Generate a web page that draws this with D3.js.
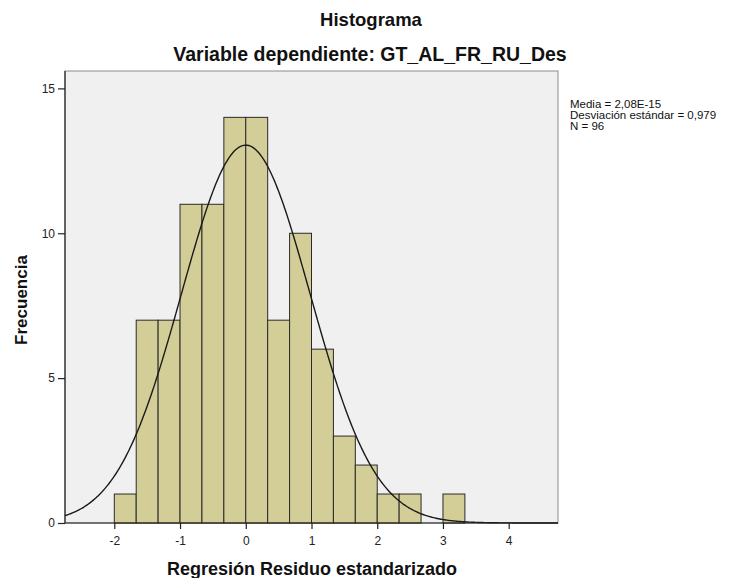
<!DOCTYPE html>
<html>
<head>
<meta charset="utf-8">
<script src="https://cdn.jsdelivr.net/npm/d3@7"></script>
<style>
body { margin: 0; background: #fff; }
text { font-family: "Liberation Sans", Arial, sans-serif; }
</style>
</head>
<body>
<svg id="chart" width="733" height="578"></svg>
<script>
// Data
const binStarts = [-2, -5/3, -4/3, -1, -2/3, -1/3, 0, 1/3, 2/3, 1, 4/3, 5/3, 2, 7/3, 8/3, 3];
const binWidth = 1/3;
const counts = [1, 7, 7, 11, 11, 14, 14, 7, 10, 6, 3, 2, 1, 1, 0, 1];
const xTicks = [-2, -1, 0, 1, 2, 3, 4];
const yTicks = [0, 5, 10, 15];
const statsLines = ["Media = 2,08E-15", "Desviación estándar = 0,979", "N = 96"];
const meanVal = 2.08e-15, sdVal = 0.979, nVal = 96;
const titleText = "Histograma";
const subtitleText = "Variable dependiente: GT_AL_FR_RU_Des";
const xLabel = "Regresión Residuo estandarizado";
const yLabel = "Frecuencia";

const svg = d3.select("#chart");
const L = 65, R = 558, T = 71, B = 523;
const x = d3.scaleLinear().domain([-2.75, 4.75]).range([L, R]);
const y = d3.scaleLinear().domain([0, 15.6]).range([B, T]);

// Plot background
svg.append("rect").attr("x", L).attr("y", T).attr("width", R - L).attr("height", B - T)
  .attr("fill", "#f0f0f0").attr("stroke", "#8c8c8c").attr("stroke-width", 1);

// Bars
svg.append("g").selectAll("rect").data(binStarts.map((s, i) => ({s, c: counts[i]})).filter(d => d.c > 0))
  .join("rect")
  .attr("x", d => x(d.s))
  .attr("y", d => y(d.c))
  .attr("width", d => x(d.s + binWidth) - x(d.s))
  .attr("height", d => y(0) - y(d.c))
  .attr("fill", "#d3ce97")
  .attr("stroke", "#2a2a2a")
  .attr("stroke-width", 1);

// Normal curve
const curvePts = d3.range(0, 401).map(i => {
  const xv = -2.75 + i * 7.5 / 400;
  const pdf = Math.exp(-0.5 * Math.pow((xv - meanVal) / sdVal, 2)) / (sdVal * Math.sqrt(2 * Math.PI));
  return [xv, nVal * binWidth * pdf];
});
svg.append("path").datum(curvePts)
  .attr("d", d3.line().x(d => x(d[0])).y(d => y(d[1])))
  .attr("fill", "none").attr("stroke", "#1a1a1a").attr("stroke-width", 1.4);

// Axes
const fmt = d => String(d);
const xAxis = svg.append("g").attr("transform", `translate(0,${B})`)
  .call(d3.axisBottom(x).tickValues(xTicks).tickSize(6).tickPadding(7).tickSizeOuter(0).tickFormat(fmt));
const yAxis = svg.append("g").attr("transform", `translate(${L},0)`)
  .call(d3.axisLeft(y).tickValues(yTicks).tickSize(7).tickPadding(3).tickSizeOuter(0).tickFormat(fmt));
[xAxis, yAxis].forEach(a => {
  a.select(".domain").attr("stroke", "#222").attr("stroke-width", 1.2);
  a.selectAll(".tick line").attr("stroke", "#222").attr("stroke-width", 1.2);
  a.selectAll(".tick text").attr("font-size", 12).attr("fill", "#222")
    .attr("font-family", '"Liberation Sans", Arial, sans-serif');
});
xAxis.select(".domain").attr("d", `M${L},0H${R}`);
yAxis.select(".domain").attr("d", `M0,${B}V${T}`);

// Titles
svg.append("text").attr("x", 371).attr("y", 26).attr("text-anchor", "middle")
  .attr("font-size", 18.5).attr("font-weight", "bold").attr("fill", "#111").text(titleText);
svg.append("text").attr("x", 370).attr("y", 61).attr("text-anchor", "middle")
  .attr("font-size", 19.5).attr("font-weight", "bold").attr("fill", "#111").text(subtitleText);

// Axis labels
svg.append("text").attr("x", 312).attr("y", 575).attr("text-anchor", "middle")
  .attr("font-size", 18).attr("font-weight", "bold").attr("fill", "#111").text(xLabel);
svg.append("text").attr("transform", `translate(27,${(T + B) / 2 + 3}) rotate(-90)`).attr("text-anchor", "middle")
  .attr("font-size", 17).attr("font-weight", "bold").attr("fill", "#111").text(yLabel);

// Stats
svg.append("g").selectAll("text").data(statsLines).join("text")
  .attr("x", 570).attr("y", (d, i) => 107.5 + i * 11)
  .attr("font-size", 11.5).attr("fill", "#111").text(d => d);
</script>
</body>
</html>
